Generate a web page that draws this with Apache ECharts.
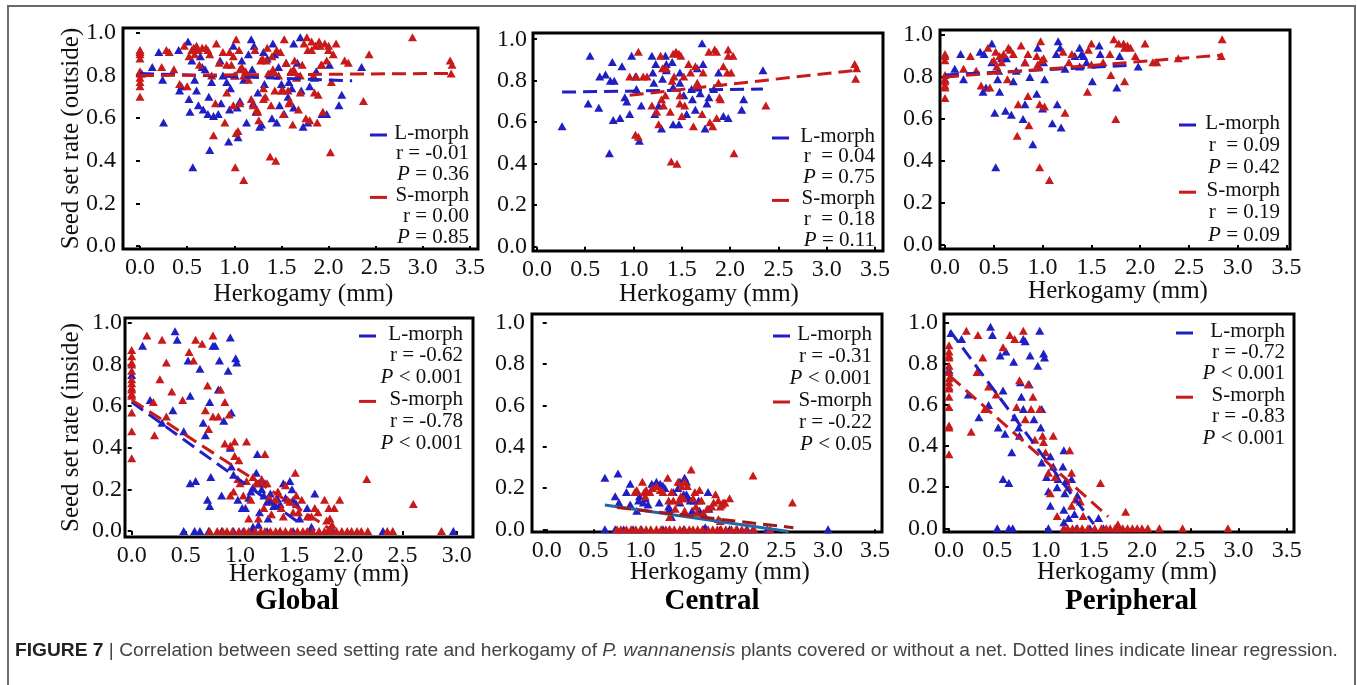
<!DOCTYPE html>
<html><head><meta charset="utf-8">
<script src="https://cdn.jsdelivr.net/npm/echarts@6/dist/echarts.min.js"></script>
<style>html,body{margin:0;padding:0;background:#fff}#c{width:1357px;height:685px}</style>
</head><body><div id="c"></div>
<script>
// ---------- tick labels / texts ----------
const xTicks = [0, 0.5, 1.0, 1.5, 2.0, 2.5, 3.0, 3.5];
const xTicksShort = [0, 0.5, 1.0, 1.5, 2.0, 2.5, 3.0];
const yTicks = [0, 0.2, 0.4, 0.6, 0.8, 1.0];
const xName = 'Herkogamy (mm)';
const yNameOut = 'Seed set rate (outside)';
const yNameIn = 'Seed set rate (inside)';
const regionTitles = ['Global', 'Central', 'Peripheral'];
const seriesNames = ['L-morph', 'S-morph'];
const caption = '{b|FIGURE 7} | Correlation between seed setting rate and herkogamy of {i|P. wannanensis} plants covered or without a net. Dotted lines indicate linear regression.';

// ---------- statistics ----------
const statsGlobalOut  = ['r = -0.01', '{i|P} = 0.36', 'r = 0.00', '{i|P} = 0.85'];
const statsCentralOut = ['r  = 0.04', '{i|P} = 0.75', 'r  = 0.18', '{i|P} = 0.11'];
const statsPeriphOut  = ['r  = 0.09', '{i|P} = 0.42', 'r  = 0.19', '{i|P} = 0.09'];
const statsGlobalIn   = ['r = -0.62', '{i|P} < 0.001', 'r = -0.78', '{i|P} < 0.001'];
const statsCentralIn  = ['r = -0.31', '{i|P} < 0.001', 'r = -0.22', '{i|P} < 0.05'];
const statsPeriphIn   = ['r = -0.72', '{i|P} < 0.001', 'r = -0.83', '{i|P} < 0.001'];

// ---------- Global, outside ----------
const globalOutL = [[0.02,0.81],[0.13,0.84],[0.20,0.91],[0.24,0.78],[0.25,0.58],[0.41,0.92],[0.42,0.73],[0.44,0.75],[0.51,0.96],[0.52,0.69],[0.53,0.63],[0.56,0.37],[0.58,0.78],[0.60,0.73],[0.62,0.66],[0.64,0.89],[0.67,0.64],[0.69,0.83],[0.72,0.62],[0.74,0.45],[0.76,0.77],[0.78,0.61],[0.83,0.62],[0.85,0.87],[0.86,0.67],[0.92,0.77],[0.94,0.49],[0.95,0.64],[0.96,0.74],[0.99,0.94],[1.01,0.80],[1.03,0.65],[1.04,0.51],[1.06,0.68],[1.08,0.87],[1.13,0.58],[1.15,0.90],[1.18,0.97],[1.19,0.83],[1.20,0.67],[1.21,0.94],[1.23,0.63],[1.27,0.56],[1.29,0.57],[1.31,0.91],[1.32,0.76],[1.38,0.81],[1.40,0.60],[1.41,0.95],[1.43,0.90],[1.45,0.58],[1.47,0.84],[1.50,0.76],[1.53,0.62],[1.55,0.86],[1.57,0.70],[1.61,0.74],[1.63,0.95],[1.63,0.65],[1.67,0.86],[1.70,0.98],[1.71,0.73],[1.73,0.56],[1.78,0.58],[1.80,0.75],[1.85,0.79],[1.87,0.82],[1.93,0.62],[1.98,0.62],[2.01,0.85],[2.11,0.66],[2.14,0.71],[2.35,0.84],[0.55,0.87],[0.66,0.84],[0.88,0.80],[1.10,0.78],[1.35,0.88],[1.58,0.77],[0.73,0.70],[1.25,0.72],[1.48,0.66]];
const globalOutS = [[0,0.92],[0,0.91],[0,0.90],[0,0.88],[0,0.82],[0,0.81],[0,0.79],[0,0.77],[0,0.75],[0,0.70],[0.23,0.84],[0.28,0.92],[0.31,0.91],[0.36,0.83],[0.42,0.76],[0.47,0.94],[0.50,0.75],[0.52,0.89],[0.55,0.92],[0.57,0.93],[0.58,0.90],[0.60,0.94],[0.62,0.92],[0.63,0.85],[0.66,0.93],[0.70,0.93],[0.72,0.92],[0.74,0.90],[0.76,0.80],[0.78,0.52],[0.80,0.67],[0.81,0.95],[0.84,0.86],[0.88,0.91],[0.90,0.58],[0.92,0.72],[0.95,0.91],[0.97,0.85],[0.99,0.66],[1.00,0.80],[1.01,0.37],[1.02,0.97],[1.02,0.53],[1.04,0.54],[1.05,0.92],[1.06,0.67],[1.08,0.84],[1.10,0.31],[1.12,0.82],[1.15,0.78],[1.18,0.69],[1.20,0.66],[1.22,0.92],[1.24,0.64],[1.26,0.59],[1.28,0.87],[1.30,0.88],[1.31,0.69],[1.33,0.70],[1.35,0.93],[1.36,0.81],[1.38,0.42],[1.39,0.66],[1.41,0.83],[1.43,0.73],[1.44,0.40],[1.45,0.92],[1.47,0.80],[1.49,0.91],[1.50,0.73],[1.52,0.62],[1.53,0.97],[1.55,0.86],[1.57,0.73],[1.58,0.67],[1.60,0.82],[1.62,0.57],[1.64,0.87],[1.66,0.79],[1.68,0.64],[1.70,0.72],[1.72,0.85],[1.74,0.95],[1.76,0.60],[1.77,0.98],[1.78,0.92],[1.80,0.59],[1.82,0.96],[1.84,0.80],[1.85,0.72],[1.86,0.94],[1.88,0.58],[1.89,0.71],[1.90,0.96],[1.92,0.85],[1.94,0.63],[1.96,0.95],[1.98,0.87],[2.00,0.92],[2.02,0.44],[2.03,0.77],[2.05,0.90],[2.08,0.95],[2.17,0.87],[2.21,0.86],[2.37,0.68],[2.43,0.90],[2.89,0.98],[3.29,0.87],[3.31,0.85],[3.30,0.81],[0.92,0.85],[0.99,0.89],[1.06,0.83],[1.10,0.80],[1.25,0.63],[1.31,0.74],[1.34,0.87],[1.40,0.89],[1.52,0.73],[1.59,0.68],[1.63,0.83],[1.70,0.80],[1.82,0.92],[1.91,0.94],[1.93,0.85],[2.00,0.94]];
const globalOutLFit = [[0, 0.81], [2.25, 0.775]];
const globalOutSFit = [[0, 0.80], [3.33, 0.81]];

// ---------- Central, outside ----------
const centralOutL = [[0.26,0.58],[0.55,0.92],[0.53,0.69],[0.64,0.67],[0.65,0.82],[0.71,0.83],[0.75,0.45],[0.76,0.80],[0.78,0.89],[0.79,0.61],[0.80,0.80],[0.86,0.62],[0.88,0.87],[0.91,0.72],[0.93,0.70],[0.96,0.64],[0.98,0.92],[1.02,0.82],[1.03,0.76],[1.06,0.51],[1.08,0.68],[1.19,0.92],[1.20,0.84],[1.21,0.79],[1.22,0.64],[1.23,0.88],[1.26,0.68],[1.29,0.57],[1.30,0.81],[1.33,0.92],[1.34,0.88],[1.34,0.85],[1.40,0.89],[1.41,0.59],[1.41,0.77],[1.47,0.59],[1.48,0.79],[1.48,0.84],[1.52,0.73],[1.55,0.64],[1.60,0.76],[1.61,0.71],[1.64,0.66],[1.66,0.86],[1.69,0.74],[1.71,0.98],[1.72,0.88],[1.74,0.57],[1.76,0.69],[1.78,0.72],[1.83,0.76],[1.88,0.84],[1.93,0.63],[1.98,0.62],[2.12,0.66],[2.14,0.71],[2.34,0.85]];
const centralOutS = [[0.96,0.82],[1.03,0.82],[1.02,0.54],[1.05,0.53],[1.05,0.94],[1.10,0.82],[1.14,0.82],[1.19,0.68],[1.24,0.65],[1.26,0.59],[1.28,0.92],[1.29,0.71],[1.30,0.86],[1.31,0.68],[1.33,0.73],[1.34,0.86],[1.38,0.65],[1.39,0.41],[1.40,0.80],[1.41,0.93],[1.42,0.82],[1.44,0.94],[1.45,0.40],[1.47,0.93],[1.48,0.73],[1.48,0.69],[1.49,0.92],[1.50,0.63],[1.52,0.82],[1.53,0.68],[1.57,0.88],[1.59,0.84],[1.62,0.58],[1.64,0.87],[1.66,0.79],[1.71,0.64],[1.72,0.84],[1.78,0.94],[1.79,0.60],[1.82,0.58],[1.84,0.95],[1.86,0.62],[1.86,0.94],[1.88,0.79],[1.89,0.72],[1.90,0.71],[1.93,0.87],[1.97,0.84],[1.98,0.95],[1.98,0.92],[2.01,0.84],[2.03,0.92],[2.04,0.45],[2.37,0.68],[3.29,0.88],[3.31,0.86],[3.30,0.81]];
const centralOutLFit = [[0.26, 0.745], [2.34, 0.76]];
const centralOutSFit = [[0.96, 0.73], [3.30, 0.85]];

// ---------- Peripheral, outside ----------
const periphOutL = [[0,0.79],[0.10,0.84],[0.16,0.91],[0.19,0.79],[0.36,0.92],[0.39,0.73],[0.40,0.91],[0.42,0.75],[0.48,0.96],[0.48,0.87],[0.51,0.63],[0.52,0.37],[0.54,0.79],[0.55,0.83],[0.56,0.73],[0.58,0.89],[0.62,0.64],[0.63,0.89],[0.68,0.62],[0.70,0.78],[0.73,0.83],[0.80,0.60],[0.82,0.67],[0.82,0.87],[0.87,0.80],[0.90,0.48],[0.94,0.72],[0.95,0.94],[1.00,0.65],[1.01,0.87],[1.02,0.79],[1.10,0.58],[1.14,0.91],[1.15,0.67],[1.16,0.97],[1.18,0.94],[1.19,0.56],[1.23,0.84],[1.33,0.90],[1.38,0.94],[1.40,0.91],[1.38,0.85],[1.42,0.90],[1.45,0.87],[1.51,0.78],[1.58,0.95],[1.59,0.91],[1.76,0.75],[1.79,0.90],[1.98,0.85]];
const periphOutS = [[0,0.91],[0,0.90],[0,0.88],[0,0.81],[0,0.79],[0,0.78],[0,0.76],[0,0.75],[0,0.70],[0.19,0.84],[0.26,0.90],[0.32,0.83],[0.37,0.76],[0.46,0.75],[0.44,0.94],[0.50,0.88],[0.52,0.92],[0.53,0.85],[0.56,0.90],[0.58,0.87],[0.60,0.91],[0.64,0.79],[0.65,0.94],[0.67,0.93],[0.70,0.91],[0.74,0.52],[0.75,0.67],[0.78,0.95],[0.82,0.87],[0.85,0.71],[0.86,0.57],[0.85,0.91],[0.94,0.90],[0.95,0.86],[0.97,0.37],[0.97,0.67],[0.98,0.97],[0.99,0.88],[1.02,0.66],[1.01,0.89],[1.07,0.31],[1.21,0.92],[1.23,0.63],[1.27,0.87],[1.30,0.91],[1.46,0.73],[1.47,0.93],[1.50,0.96],[1.50,0.86],[1.62,0.87],[1.69,0.91],[1.70,0.81],[1.73,0.98],[1.75,0.60],[1.78,0.96],[1.83,0.96],[1.84,0.78],[1.84,0.94],[1.87,0.95],[1.90,0.94],[1.95,0.90],[2.05,0.96],[2.13,0.87],[2.17,0.87],[2.39,0.89],[2.84,0.98],[2.83,0.90]];
const periphOutLFit = [[0, 0.81], [1.86, 0.855]];
const periphOutSFit = [[0, 0.80], [2.85, 0.905]];

// ---------- Global, inside ----------
const globalInL = [[0,0.75],[0.10,0.89],[0.40,0.96],[0.42,0.92],[0.17,0.63],[0.28,0.52],[0.38,0.58],[0.48,0.48],[0.52,0.82],[0.54,0.65],[0.54,0.23],[0.59,0.24],[0.63,0.78],[0.66,0.52],[0.68,0.46],[0.70,0.15],[0.72,0.12],[0.72,0.62],[0.73,0.26],[0.75,0.89],[0.77,0.89],[0.80,0.68],[0.81,0.82],[0.83,0.17],[0.85,0.53],[0.89,0.77],[0.91,0.93],[0.91,0.40],[0.92,0.57],[0.92,0.31],[0.96,0.83],[0.97,0.81],[0.94,0.27],[0.98,0.15],[1.02,0.11],[1.05,0.11],[1.08,0.16],[1.10,0.19],[1.12,0.21],[1.15,0.28],[1.16,0.37],[1.17,0.23],[1.18,0.09],[1.20,0.20],[1.22,0.17],[1.23,0.23],[1.25,0.14],[1.26,0.06],[1.28,0.18],[1.31,0.12],[1.34,0.16],[1.37,0.13],[1.40,0.23],[1.42,0.16],[1.46,0.24],[1.48,0.20],[1.49,0.15],[1.52,0.13],[1.55,0.06],[1.62,0.11],[1.69,0.18],[1.66,0.02],[1.17,0.03],[1.12,0.02],[0.48,0],[0.58,0],[0.63,0],[0.71,0],[0.83,0],[0.94,0],[1.03,0],[1.12,0],[1.25,0],[1.37,0],[1.49,0],[1.65,0],[1.86,0],[2.32,0],[2.97,0]];
const globalInS = [[0,0.87],[0,0.84],[0,0.81],[0,0.80],[0,0.77],[0,0.73],[0,0.71],[0,0.69],[0,0.68],[0,0.66],[0,0.65],[0,0.57],[0,0.48],[0,0.35],[0.14,0.94],[0.20,0.62],[0.21,0.46],[0.28,0.92],[0.26,0.73],[0.32,0.81],[0.32,0.55],[0.37,0.67],[0.47,0.63],[0.53,0.86],[0.57,0.82],[0.59,0.92],[0.65,0.90],[0.68,0.58],[0.70,0.70],[0.71,0.49],[0.75,0.94],[0.75,0.55],[0.80,0.55],[0.82,0.68],[0.86,0.62],[0.90,0.56],[0.86,0.42],[0.91,0.41],[0.95,0.43],[0.95,0.36],[0.99,0.34],[1.06,0.43],[1.23,0.37],[1.51,0.28],[2.17,0.25],[2.60,0.13],[0.91,0.17],[0.94,0.19],[0.98,0.25],[1.00,0.23],[1.03,0.17],[1.06,0.24],[1.08,0.06],[1.10,0.15],[1.12,0.26],[1.15,0.23],[1.17,0.06],[1.20,0.25],[1.22,0.11],[1.25,0.23],[1.27,0.16],[1.29,0.08],[1.31,0.14],[1.33,0.15],[1.35,0.19],[1.38,0.11],[1.40,0.07],[1.42,0.22],[1.44,0.15],[1.46,0.14],[1.49,0.09],[1.52,0.17],[1.54,0.09],[1.57,0.15],[1.62,0.07],[1.66,0.07],[1.69,0.11],[1.72,0.09],[1.78,0.15],[1.82,0.11],[1.83,0.06],[1.85,0.03],[1.87,0.11],[1.92,0.15],[1.80,0.05],[0.72,0],[0.79,0],[0.84,0],[0.88,0],[0.93,0],[0.99,0],[1.04,0],[1.08,0],[1.14,0],[1.19,0],[1.23,0],[1.28,0],[1.33,0],[1.37,0],[1.42,0],[1.47,0],[1.53,0],[1.58,0],[1.62,0],[1.67,0],[1.73,0],[1.78,0],[1.81,0],[1.84,0],[1.89,0],[1.94,0],[1.99,0],[2.03,0],[2.08,0],[2.12,0],[2.18,0],[2.36,0],[2.41,0],[2.86,0]];
const globalInLFit = [[0, 0.62], [1.57, 0.03]];
const globalInSFit = [[0, 0.63], [1.86, 0.0]];

// ---------- Central, inside ----------
const centralInL = [[0.62,0.25],[0.76,0.27],[0.73,0.16],[0.77,0.13],[0.85,0.18],[0.89,0.22],[0.89,0.12],[0.96,0.09],[0.98,0.14],[0.99,0.16],[1.03,0.13],[1.05,0.15],[1.08,0.12],[1.12,0.22],[1.14,0.21],[1.17,0.23],[1.19,0.21],[1.21,0.22],[1.23,0.21],[1.24,0.21],[1.26,0.20],[1.20,0.13],[1.30,0.11],[1.31,0.10],[1.33,0.06],[1.35,0.18],[1.40,0.20],[1.42,0.23],[1.42,0.13],[1.46,0.17],[1.47,0.25],[1.49,0.23],[1.49,0.17],[1.51,0.15],[1.53,0.14],[1.55,0.09],[1.57,0.14],[1.62,0.14],[1.63,0.09],[1.69,0.01],[1.72,0.18],[1.73,0.10],[0.62,0],[0.73,0],[0.82,0],[0.92,0],[1.01,0],[1.24,0],[1.31,0],[1.46,0],[1.67,0],[1.85,0],[1.95,0],[2.03,0],[2.13,0],[2.20,0],[2.35,0],[3.00,0]];
const centralInS = [[0.94,0.18],[0.96,0.19],[1.02,0.23],[1.04,0.18],[1.06,0.19],[1.05,0.16],[1.10,0.18],[1.13,0.20],[1.17,0.21],[1.21,0.19],[1.24,0.18],[1.29,0.25],[1.30,0.14],[1.31,0.06],[1.33,0.18],[1.35,0.14],[1.37,0.10],[1.40,0.23],[1.41,0.14],[1.43,0.16],[1.44,0.21],[1.46,0.15],[1.47,0.09],[1.47,0.23],[1.50,0.21],[1.54,0.29],[1.56,0.15],[1.58,0.18],[1.59,0.11],[1.60,0.08],[1.63,0.19],[1.65,0.14],[1.67,0.08],[1.71,0.10],[1.76,0.11],[1.78,0.13],[1.80,0.17],[1.83,0.14],[1.85,0.11],[1.87,0.12],[1.88,0.13],[1.90,0.13],[1.95,0.15],[1.83,0.05],[1.85,0.04],[2.20,0.26],[2.62,0.13],[0.75,0],[0.79,0],[0.85,0],[0.90,0],[0.95,0],[1.00,0],[1.06,0],[1.11,0],[1.17,0],[1.22,0],[1.27,0],[1.31,0],[1.36,0],[1.42,0],[1.47,0],[1.52,0],[1.56,0],[1.61,0],[1.66,0],[1.72,0],[1.77,0],[1.82,0],[1.86,0],[1.91,0],[1.97,0],[2.02,0],[2.08,0],[2.14,0],[2.21,0],[2.38,0]];
const centralInLFit = [[0.62, 0.118], [2.58, -0.011]];
const centralInSFit = [[0.75, 0.106], [2.63, 0.008]];

// ---------- Peripheral, inside ----------
const periphInL = [[0,0.77],[0.02,0.95],[0.13,0.92],[0.20,0.65],[0.31,0.54],[0.41,0.60],[0.43,0.98],[0.45,0.94],[0.51,0.49],[0.53,0.84],[0.56,0.24],[0.56,0.67],[0.58,0.46],[0.59,0.86],[0.62,0.22],[0.65,0.37],[0.67,0.81],[0.68,0.54],[0.72,0.49],[0.73,0.45],[0.74,0.71],[0.75,0.64],[0.77,0.92],[0.79,0.91],[0.77,0.58],[0.83,0.70],[0.84,0.84],[0.88,0.53],[0.92,0.79],[0.94,0.96],[0.95,0.49],[0.96,0.58],[0.96,0.32],[0.98,0.85],[0.99,0.83],[1.01,0.25],[1.05,0.35],[1.03,0.18],[1.05,0.11],[1.08,0.30],[1.12,0.20],[1.13,0.24],[1.18,0.30],[1.19,0.38],[1.19,0.09],[1.20,0.17],[1.21,0.23],[1.19,0.03],[1.24,0.05],[1.27,0.24],[1.30,0.07],[1.33,0.16],[1.55,0.05],[0.50,0],[0.62,0],[0.66,0],[1.03,0],[1.19,0],[1.32,0],[1.46,0],[1.60,0],[1.74,0]];
const periphInS = [[0,0.89],[0,0.86],[0,0.84],[0,0.83],[0,0.79],[0,0.76],[0,0.73],[0,0.71],[0,0.69],[0,0.68],[0,0.64],[0,0.59],[0,0.50],[0,0.49],[0,0.36],[0.18,0.96],[0.23,0.47],[0.30,0.94],[0.29,0.76],[0.35,0.83],[0.37,0.58],[0.41,0.69],[0.49,0.65],[0.56,0.88],[0.63,0.94],[0.68,0.92],[0.70,0.59],[0.73,0.72],[0.77,0.96],[0.79,0.53],[0.82,0.70],[0.85,0.58],[0.87,0.64],[0.89,0.43],[0.94,0.58],[0.97,0.45],[0.98,0.42],[1.00,0.37],[1.03,0.27],[1.08,0.45],[1.10,0.25],[1.05,0.17],[1.12,0.06],[1.25,0.38],[1.27,0.27],[1.24,0.20],[1.27,0.11],[1.31,0.14],[1.36,0.13],[1.39,0.06],[1.57,0.22],[1.83,0.08],[1.75,0.02],[1.19,0],[1.23,0],[1.28,0],[1.33,0],[1.38,0],[1.44,0],[1.51,0],[1.58,0],[1.63,0],[1.67,0],[1.72,0],[1.76,0],[1.80,0],[1.85,0],[1.90,0],[1.95,0],[2.00,0],[2.06,0],[2.18,0],[2.42,0],[2.89,0]];
const periphInLFit = [[0.01, 0.96], [1.50, 0.02]];
const periphInSFit = [[0.01, 0.74], [1.65, 0.057]];

// ---------- layout (positions / styles only) ----------
const BLUE = '#1f1fc4', RED = '#c81a1a';
const SERIF = "'Liberation Serif','Times New Roman',serif";
const SANS = "'Liberation Sans',Arial,sans-serif";
const panels = [
  {grid:{left:123,top:28,width:355,height:221}, x:[-0.180,3.585], y:[-0.014,1.023], xt:xTicks, ym:7, yName:yNameOut, yGap:39, xGap:33, xShift:3,
   L:globalOutL, S:globalOutS, Lf:globalOutLFit, Sf:globalOutSFit, st:statsGlobalOut, lg:{r:469,y0:133,dy:20.8,seg:370}},
  {grid:{left:533,top:33,width:350,height:218}, x:[-0.041,3.583], y:[-0.021,1.030], xt:xTicks, ym:6, yName:'', xGap:31, xShift:1,
   L:centralOutL, S:centralOutS, Lf:centralOutLFit, Sf:centralOutSFit, st:statsCentralOut, lg:{r:875,y0:136,dy:20.8,seg:772}},
  {grid:{left:940,top:30,width:350,height:219}, x:[-0.051,3.535], y:[-0.019,1.024], xt:xTicks, ym:7, yName:'', xGap:30, xShift:3,
   L:periphOutL, S:periphOutS, Lf:periphOutLFit, Sf:periphOutSFit, st:statsPeriphOut, lg:{r:1280,y0:123,dy:22.4,seg:1179}},
  {grid:{left:125,top:318,width:348,height:219}, x:[-0.062,3.151], y:[-0.029,1.024], xt:xTicksShort, ym:3, yName:yNameIn, yGap:41, xGap:25, xShift:20,
   L:globalInL, S:globalInS, Lf:globalInLFit, Sf:globalInSFit, st:statsGlobalIn, lg:{r:463,y0:334,dy:21.8,seg:359}},
  {grid:{left:532,top:314,width:350,height:218}, x:[-0.157,3.575], y:[-0.013,1.042], xt:xTicks, ym:7, yName:'', xGap:28, xShift:13,
   L:centralInL, S:centralInS, Lf:centralInLFit, Sf:centralInSFit, st:statsCentralIn, lg:{r:872,y0:334,dy:22,seg:773}, central:true},
  {grid:{left:944,top:314,width:350,height:218}, x:[-0.052,3.575], y:[-0.018,1.042], xt:xTicks, ym:6, yName:'', xGap:28, xShift:8,
   L:periphInL, S:periphInS, Lf:periphInLFit, Sf:periphInSFit, st:statsPeriphIn, lg:{r:1285,y0:331,dy:21.4,seg:1176}}
];
const titlePos = [[297,602],[712,602],[1131,602]];

const grids = [], xAxes = [], yAxes = [], series = [], graphic = [];
const fmt = v => v.toFixed(1);
panels.forEach((p, i) => {
  grids.push(Object.assign({show:true, borderColor:'#000', borderWidth:3, backgroundColor:'#fff', containLabel:false}, p.grid));
  xAxes.push({type:'value', gridIndex:i, min:p.x[0], max:p.x[1],
    axisLine:{show:false}, splitLine:{show:false},
    axisTick:{show:true, length:4, lineStyle:{color:'#000', width:2}, customValues:p.xt},
    axisLabel:{customValues:p.xt, formatter:fmt, margin:7, color:'#111', fontFamily:SERIF, fontSize:24},
    name:xName, nameLocation:'middle', nameGap:p.xGap, nameMoveOverlap:false,
    nameTextStyle:{fontFamily:SERIF, fontSize:25, color:'#111', padding:[0,0,0,2*p.xShift]}});
  yAxes.push({type:'value', gridIndex:i, min:p.y[0], max:p.y[1],
    axisLine:{show:false}, splitLine:{show:false},
    axisTick:{show:true, length:4, lineStyle:{color:'#000', width:2}, customValues:yTicks},
    axisLabel:{customValues:yTicks, formatter:fmt, margin:p.ym, color:'#111', fontFamily:SERIF, fontSize:24},
    name:p.yName, nameLocation:'middle', nameGap:p.yGap || 40, nameMoveOverlap:false,
    nameTextStyle:{fontFamily:SERIF, fontSize:25, color:'#111'}});
  series.push({type:'scatter', name:seriesNames[0], xAxisIndex:i, yAxisIndex:i, data:p.L, symbol:'triangle', symbolSize:[9,8], itemStyle:{color:BLUE, opacity:1}, z:2});
  series.push({type:'scatter', name:seriesNames[1], xAxisIndex:i, yAxisIndex:i, data:p.S, symbol:'triangle', symbolSize:[9,8], itemStyle:{color:RED, opacity:1}, z:2});
  series.push({type:'line', xAxisIndex:i, yAxisIndex:i, data:p.Lf, symbol:'none', z:4,
    lineStyle:p.central ? {color:'#2468aa', width:3, type:'solid'} : {color:BLUE, width:3, type:[14,7]}});
  series.push({type:'line', xAxisIndex:i, yAxisIndex:i, data:p.Sf, symbol:'none', z:5,
    lineStyle:{color:p.central ? '#a01818' : RED, width:3, type:[14,7]}});
  // legend block
  const lg = p.lg;
  const lines = [seriesNames[0], p.st[0], p.st[1], seriesNames[1], p.st[2], p.st[3]];
  lines.forEach((t, k) => {
    graphic.push({type:'text', x:lg.r, y:lg.y0 + k*lg.dy, z:10, style:{text:t, align:'right', verticalAlign:'middle',
      fontFamily:SERIF, fontSize:21, fill:'#111',
      rich:{i:{fontStyle:'italic', fontFamily:SERIF, fontSize:21, fill:'#111'}}}});
  });
  [[0, BLUE],[3, RED]].forEach(([k, c]) => {
    graphic.push({type:'line', z:10, shape:{x1:lg.seg, y1:lg.y0 + k*lg.dy + 2, x2:lg.seg + 17, y2:lg.y0 + k*lg.dy + 2},
      style:{stroke:c, lineWidth:3}});
  });
});
regionTitles.forEach((t, i) => {
  graphic.push({type:'text', x:titlePos[i][0], y:titlePos[i][1], style:{text:t, align:'center', verticalAlign:'middle',
    fontFamily:SERIF, fontWeight:'bold', fontSize:29, fill:'#000'}});
});
graphic.push({type:'rect', z:-1, shape:{x:8, y:6, width:1347, height:700}, style:{fill:'none', stroke:'#6a6a6a', lineWidth:2}});
graphic.push({type:'text', x:15, y:651, style:{text:caption, verticalAlign:'middle', fontFamily:SANS, fontSize:19.2, fill:'#444',
  rich:{b:{fontWeight:'bold', fontFamily:SANS, fontSize:19.2, fill:'#222'},
        i:{fontStyle:'italic', fontFamily:SANS, fontSize:19.2, fill:'#444'}}}});

const chart = echarts.init(document.getElementById('c'), null, {renderer:'canvas'});
chart.setOption({animation:false, backgroundColor:'#fff', grid:grids, xAxis:xAxes, yAxis:yAxes, series:series, graphic:graphic});
</script></body></html>
